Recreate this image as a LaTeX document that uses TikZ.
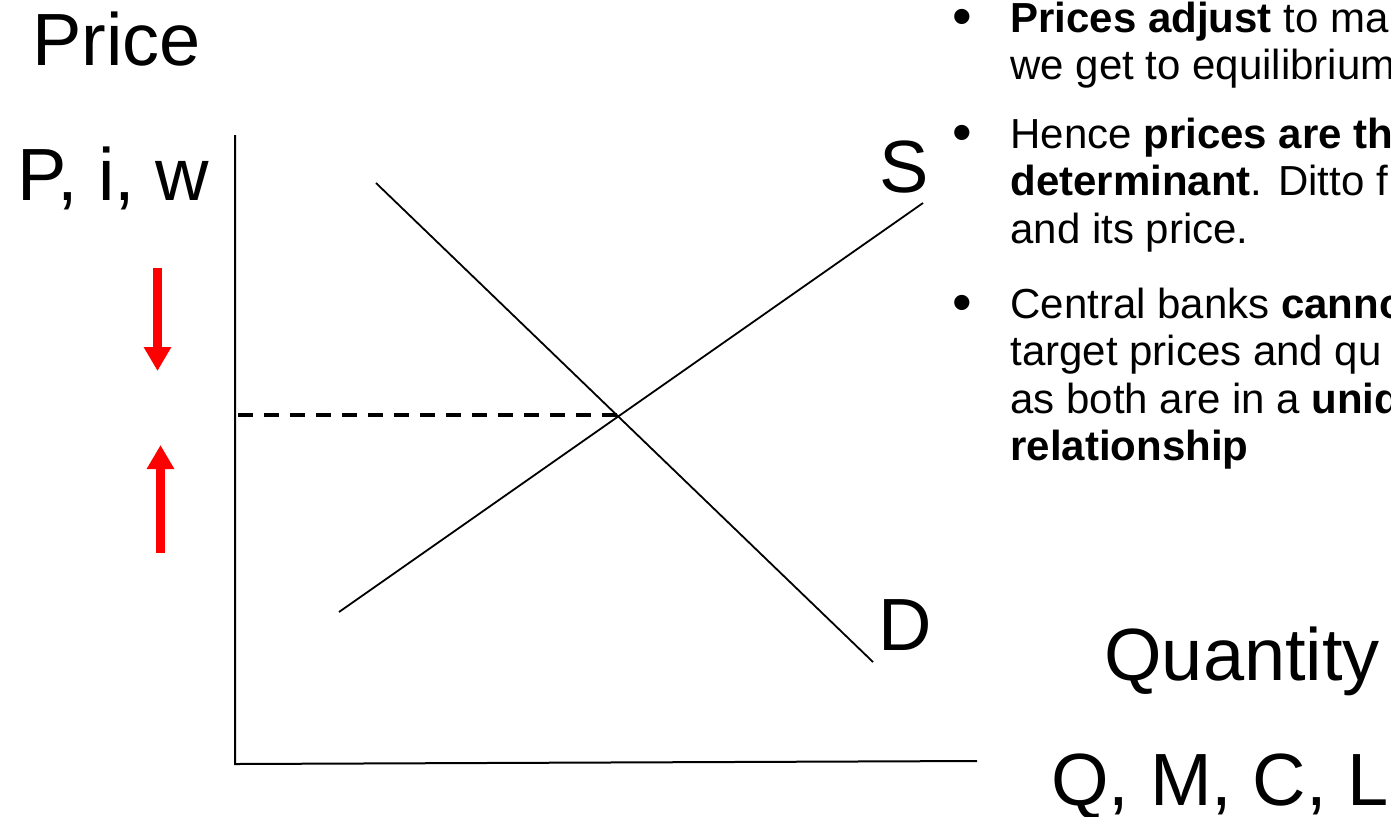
\documentclass[tikz,border=0pt]{standalone}
\usepackage{fontspec}
\setmainfont{Liberation Sans}
\usetikzlibrary{arrows.meta}
\definecolor{shiftRed}{RGB}{255, 0, 0}

\begin{document}
\begin{tikzpicture}[
    x=0.5pt, y=-0.5pt,
    axis/.style={line width=1pt, black},
    curve/.style={line width=0.9pt, black},
    eqline/.style={line width=1.6pt, black, dash pattern=on 7.5pt off 5.5pt},
    biglabel/.style={font=\fontsize{37}{44}\selectfont, inner sep=0, anchor=base west},
    bulletdot/.style={font=\fontsize{28}{30}\selectfont, inner sep=0,
                      text height=12pt, text depth=0pt, anchor=base west},
    bullettext/.style={font=\fontsize{21}{23.75}\selectfont, inner sep=0,
                       anchor=base west, align=left},
    shiftarrow/.style={line width=4.5pt, shiftRed,
                       -{Triangle[length=12pt, width=13pt]}},
  ]
    \useasboundingbox (0,0) rectangle (1391,816);
    \clip (0,0) rectangle (1391,816);

    % axes
    \coordinate (O) at (235,764);
    \coordinate (Ytop) at (235,135);
    \coordinate (Xend) at (977,761);
    \draw[axis] (Ytop) -- (O) -- (Xend);

    % demand and supply
    \coordinate (Dstart) at (376,183);
    \coordinate (Dend) at (873,662);
    \coordinate (Sstart) at (339,612);
    \coordinate (Send) at (923,203);
    \coordinate (EQ) at (620,415);
    \coordinate (EQaxis) at (238,415);
    \draw[curve] (Dstart) -- (Dend);
    \draw[curve] (Sstart) -- (Send);
    \draw[eqline] (EQaxis) -- (EQ);

    % price pressure arrows
    \coordinate (downA) at (157.5,268);
    \coordinate (downB) at (157.5,371);
    \coordinate (upA) at (160.5,553);
    \coordinate (upB) at (160.5,445);
    \draw[shiftarrow] (downA) -- (downB);
    \draw[shiftarrow] (upA) -- (upB);

    % axis and curve labels
    \node[biglabel] (PRICE) at (32,65) {Price};
    \node[biglabel] (PIW) at (17,200) {P, i, w};
    \node[biglabel] (SLAB) at (879,192) {S};
    \node[biglabel] (DLAB) at (878,650) {D};
    \node[biglabel] (QTY) at (1104,680) {Quantity};
    \node[biglabel] (QMCL) at (1051,805) {Q, M, C, L};

    % bullet points (node base = last line)
    \node[bulletdot] (B1) at (952,35) {•};
    \node[bullettext] (T1) at (1010,79.5)
      {\textbf{Prices adjust} to ma\\we get to equilibrium};
    \node[bulletdot] (B2) at (952,151) {•};
    \node[bullettext] (T2) at (1010,243)
      {Hence \textbf{prices are th}\\\textbf{determinant}. Ditto f\\and its price.};
    \node[bulletdot] (B3) at (952,321) {•};
    \node[bullettext] (T3) at (1010,460.5)
      {Central banks \textbf{canno}\\target prices and qu\\as both are in a \textbf{uniq}\\\textbf{relationship}};
  \end{tikzpicture}
\end{document}
